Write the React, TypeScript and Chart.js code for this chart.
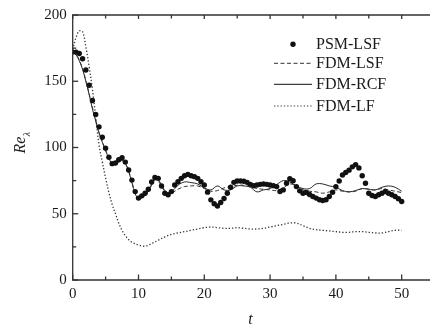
import React, { useEffect, useRef } from "react";
import { Chart, registerables } from "chart.js";

Chart.register(...registerables);

// ---------- data ----------
const tPSM = [
  0, 0.5, 1, 1.5, 2, 2.5, 3, 3.5, 4, 4.5, 5, 5.5, 6, 6.5, 7, 7.5, 8, 8.5, 9, 9.5,
  10, 10.5, 11, 11.5, 12, 12.5, 13, 13.5, 14, 14.5, 15, 15.5, 16, 16.5, 17, 17.5, 18, 18.5, 19, 19.5,
  20, 20.5, 21, 21.5, 22, 22.5, 23, 23.5, 24, 24.5, 25, 25.5, 26, 26.5, 27, 27.5, 28, 28.5, 29, 29.5,
  30, 30.5, 31, 31.5, 32, 32.5, 33, 33.5, 34, 34.5, 35, 35.5, 36, 36.5, 37, 37.5, 38, 38.5, 39, 39.5,
  40, 40.5, 41, 41.5, 42, 42.5, 43, 43.5, 44, 44.5, 45, 45.5, 46, 46.5, 47, 47.5, 48, 48.5, 49, 49.5, 50,
];
const psmLSF = [
  172, 172, 171, 167, 158.5, 147, 135.5, 125, 115.6, 107.7, 99.5, 92.6, 87.8, 88.3, 90.8, 92.3, 89, 83, 75.4, 66.7,
  61.8, 63.5, 65.5, 68.5, 74, 77.4, 76.7, 71, 65.5, 64.3, 66.7, 71.7, 74.2, 76.7, 78.7, 79.7, 78.7, 78, 76.7, 74.2,
  71.7, 66.3, 60.5, 57.5, 55.8, 58.5, 61.5, 65.5, 70, 73.7, 74.7, 74.7, 74.5, 73.7, 72.2, 71.2, 71.7, 72.2, 72.5, 72.2,
  71.7, 71.2, 70.5, 66.8, 68, 73, 76.5, 75, 70.5, 67.3, 65.5, 66, 64.5, 63, 61.8, 60.6, 60, 60.6, 63, 66.2,
  70.5, 74.7, 79.2, 81.1, 82.9, 85.4, 87.1, 84.6, 78.7, 73, 65.5, 63.8, 63, 64.3, 65.5, 66.8, 65.5, 64.3, 63, 61.3, 59.3,
];

const tLine = [
  0, 0.5, 1, 1.5, 2, 2.5, 3, 3.5, 4, 4.5, 5, 5.5, 6, 6.5, 7, 7.5, 8, 8.5, 9, 9.5,
  10, 10.5, 11, 11.5, 12, 12.5, 13, 13.5, 14, 14.5, 15, 16, 17, 18, 19, 20, 21, 22, 23, 24,
  25, 26, 27, 28, 29, 30, 31, 32, 33, 34, 35, 36, 37, 38, 39, 40, 41, 42, 43, 44, 45, 46, 47, 48, 49, 50,
];
const fdmLSF = [
  172, 170.5, 166, 159.5, 150.5, 140.5, 130, 120.5, 111.5, 104.5, 98, 92.5, 88, 87.5, 89, 90, 88, 82.5, 74, 65.5,
  62, 62.5, 64, 67, 71.5, 75.5, 74.5, 70.5, 67, 65.5, 65.5, 68.5, 70.5, 71, 71, 69, 67, 67.5, 69.5, 70.5,
  71.5, 71.5, 70.5, 69, 68.5, 68, 67.5, 69.5, 72.5, 71, 68, 67, 66.5, 65.5, 66.5, 68, 67, 66.5, 67, 69, 68.5, 68, 69, 68, 67, 66,
];
const fdmRCF = [
  172, 170, 165.5, 159, 150, 140, 129, 120, 111, 104, 97.5, 92, 87.5, 87.5, 89.5, 90.5, 88, 82, 73.5, 65,
  61.5, 62, 64, 67.5, 72.5, 77, 76, 71.5, 67.5, 65.5, 66.5, 71.5, 74, 73.5, 72.5, 69.5, 68, 71, 68, 68,
  71, 71, 70, 66.5, 68, 69, 72, 75, 74, 71, 69, 69, 72.5, 72.5, 71, 70, 67.5, 66.5, 67.5, 69, 68.5, 68, 70, 71, 70, 67,
];

const tLF = [
  0, 0.5, 1, 1.5, 2, 2.5, 3, 3.5, 4, 4.5, 5, 5.5, 6, 6.5, 7, 7.5, 8, 8.5, 9, 10,
  11, 12, 13, 14, 15, 16, 17, 18, 19, 20, 21, 22, 23, 24, 25, 26, 27, 28, 29, 30,
  31, 32, 33, 34, 35, 36, 37, 38, 39, 40, 41, 42, 43, 44, 45, 46, 47, 48, 49, 50,
];
const fdmLF = [
  174, 183, 188, 187.5, 176, 161, 144, 123, 102, 89, 77, 66, 57, 50, 43, 37.5, 33.5, 30.5, 28.5, 26.5,
  25.5, 27.5, 30, 32.5, 34.5, 35.5, 36.5, 37.5, 38.5, 39.5, 40, 39.5, 39, 39, 39.5, 39, 38.5, 38.5, 39, 40,
  41, 42, 43, 43, 41, 39, 38, 37.5, 37, 36.5, 36, 36, 36.5, 36.5, 36, 35.5, 35.5, 36.5, 37.5, 37.5,
];

const xMajorTicks = [0, 10, 20, 30, 40, 50];
const xMinorTicks = [5, 15, 25, 35, 45];
const yMajorTicks = [0, 50, 100, 150, 200];
const yMinorTicks = [25, 75, 125, 175];
const seriesNames = ["PSM-LSF", "FDM-LSF", "FDM-RCF", "FDM-LF"];

// ---------- styles ----------
const FONT = "'Liberation Serif', 'Times New Roman', serif";
const AXIS = "#333";
const DASH_LSF = [4, 2.5];
const DASH_LF = [1.3, 2];

const zip = (xs: number[], ys: number[]) => xs.map((x, i) => ({ x, y: ys[i] }));

const decorPlugin = {
  id: "decor",
  afterDatasetsDraw(chart: any) {
    const { ctx, chartArea, scales } = chart;
    const { left, right, top, bottom } = chartArea;
    const xs = scales.x;
    const ys = scales.y;
    ctx.save();
    ctx.strokeStyle = AXIS;
    ctx.lineWidth = 1.3;
    ctx.setLineDash([]);
    ctx.beginPath();
    ctx.moveTo(right + 2, top);
    ctx.lineTo(left, top);
    ctx.lineTo(left, bottom);
    ctx.lineTo(right + 2, bottom);
    ctx.stroke();
    const seg = (x1: number, y1: number, x2: number, y2: number) => {
      ctx.beginPath();
      ctx.moveTo(x1, y1);
      ctx.lineTo(x2, y2);
      ctx.stroke();
    };
    xMajorTicks.forEach((v) => {
      const p = xs.getPixelForValue(v);
      seg(p, bottom, p, bottom - 5.5);
      seg(p, top, p, top + 4);
    });
    xMinorTicks.forEach((v) => {
      const p = xs.getPixelForValue(v);
      seg(p, bottom, p, bottom - 3.5);
      seg(p, top, p, top + 3.5);
    });
    yMajorTicks.forEach((v) => {
      const p = ys.getPixelForValue(v);
      seg(left, p, left + 5.5, p);
    });
    yMinorTicks.forEach((v) => {
      const p = ys.getPixelForValue(v);
      seg(left, p, left + 3.5, p);
    });

    // legend
    const lx1 = 274, lx2 = 312, tx = 316;
    const rows = [44.3, 63.3, 84.3, 106];
    ctx.fillStyle = "#111";
    ctx.font = `16px ${FONT}`;
    ctx.textBaseline = "alphabetic";
    ctx.textAlign = "left";
    ctx.beginPath();
    ctx.arc(293, rows[0], 2.7, 0, Math.PI * 2);
    ctx.fill();
    ctx.strokeStyle = "#333";
    ctx.lineWidth = 1;
    ctx.setLineDash(DASH_LSF);
    seg(lx1, rows[1], lx2, rows[1]);
    ctx.setLineDash([]);
    ctx.strokeStyle = "#111";
    seg(lx1, rows[2], lx2, rows[2]);
    ctx.setLineDash(DASH_LF);
    ctx.strokeStyle = "#333";
    seg(lx1, rows[3], lx2, rows[3]);
    ctx.setLineDash([]);
    ctx.fillStyle = "#1a1a1a";
    seriesNames.forEach((n, i) => ctx.fillText(n, tx, rows[i] + 5));

    // y title Re_lambda
    ctx.save();
    ctx.translate(25, 146);
    ctx.rotate(-Math.PI / 2);
    ctx.font = `italic 16px ${FONT}`;
    const w1 = ctx.measureText("Re").width;
    ctx.font = `italic 10px ${FONT}`;
    const w2 = ctx.measureText("λ").width;
    const start = -(w1 + w2) / 2 + 3;
    ctx.font = `italic 16px ${FONT}`;
    ctx.fillText("Re", start, 0);
    ctx.font = `italic 10px ${FONT}`;
    ctx.fillText("λ", start + w1 + 0.5, 4.5);
    ctx.restore();
    ctx.restore();
  },
};

export default function App() {
  const ref = useRef<HTMLCanvasElement | null>(null);
  useEffect(() => {
    if (!ref.current) return;
    const chart = new Chart(ref.current, {
      type: "scatter",
      data: {
        datasets: [
          {
            label: seriesNames[0],
            data: zip(tPSM, psmLSF),
            showLine: false,
            pointRadius: 2.7,
            pointBackgroundColor: "#111",
            pointBorderWidth: 0,
            order: 0,
          },
          {
            label: seriesNames[1],
            data: zip(tLine, fdmLSF),
            showLine: true,
            pointRadius: 0,
            borderColor: "#333",
            borderWidth: 1,
            borderDash: DASH_LSF,
            tension: 0.35,
            order: 1,
          },
          {
            label: seriesNames[2],
            data: zip(tLine, fdmRCF),
            showLine: true,
            pointRadius: 0,
            borderColor: "#111",
            borderWidth: 0.9,
            tension: 0.35,
            order: 2,
          },
          {
            label: seriesNames[3],
            data: zip(tLF, fdmLF),
            showLine: true,
            pointRadius: 0,
            borderColor: "#333",
            borderWidth: 1.3,
            borderDash: DASH_LF,
            tension: 0.35,
            order: 3,
          },
        ],
      },
      options: {
        animation: false,
        responsive: false,
        maintainAspectRatio: false,
        layout: { padding: { top: 11, left: 0, right: 0, bottom: 0 } },
        plugins: { legend: { display: false }, tooltip: { enabled: false } },
        scales: {
          x: {
            type: "linear",
            min: 0,
            max: 54,
            afterBuildTicks: (s: any) => {
              s.ticks = xMajorTicks.map((v) => ({ value: v }));
            },
            afterFit: (s: any) => {
              s.height = 51;
            },
            grid: { display: false, drawTicks: false },
            border: { display: false },
            ticks: { padding: 5, color: "#1a1a1a", font: { family: FONT, size: 15 }, maxRotation: 0, autoSkip: false },
            title: { display: true, text: "t", color: "#1a1a1a", font: { family: FONT, size: 16, style: "italic" }, padding: { top: 0, bottom: 2 } },
          },
          y: {
            min: 0,
            max: 200,
            afterBuildTicks: (s: any) => {
              s.ticks = yMajorTicks.map((v) => ({ value: v }));
            },
            afterFit: (s: any) => {
              s.width = 72.7;
            },
            grid: { display: false, drawTicks: false },
            border: { display: false },
            ticks: { padding: 6, color: "#1a1a1a", font: { family: FONT, size: 15 } },
          },
        },
      },
      plugins: [decorPlugin],
    });
    return () => chart.destroy();
  }, []);
  return (
    <div style={{ position: "absolute", left: 0, top: 0, width: 432, height: 331, background: "#fff" }}>
      <canvas ref={ref} width={432} height={331} />
    </div>
  );
}
